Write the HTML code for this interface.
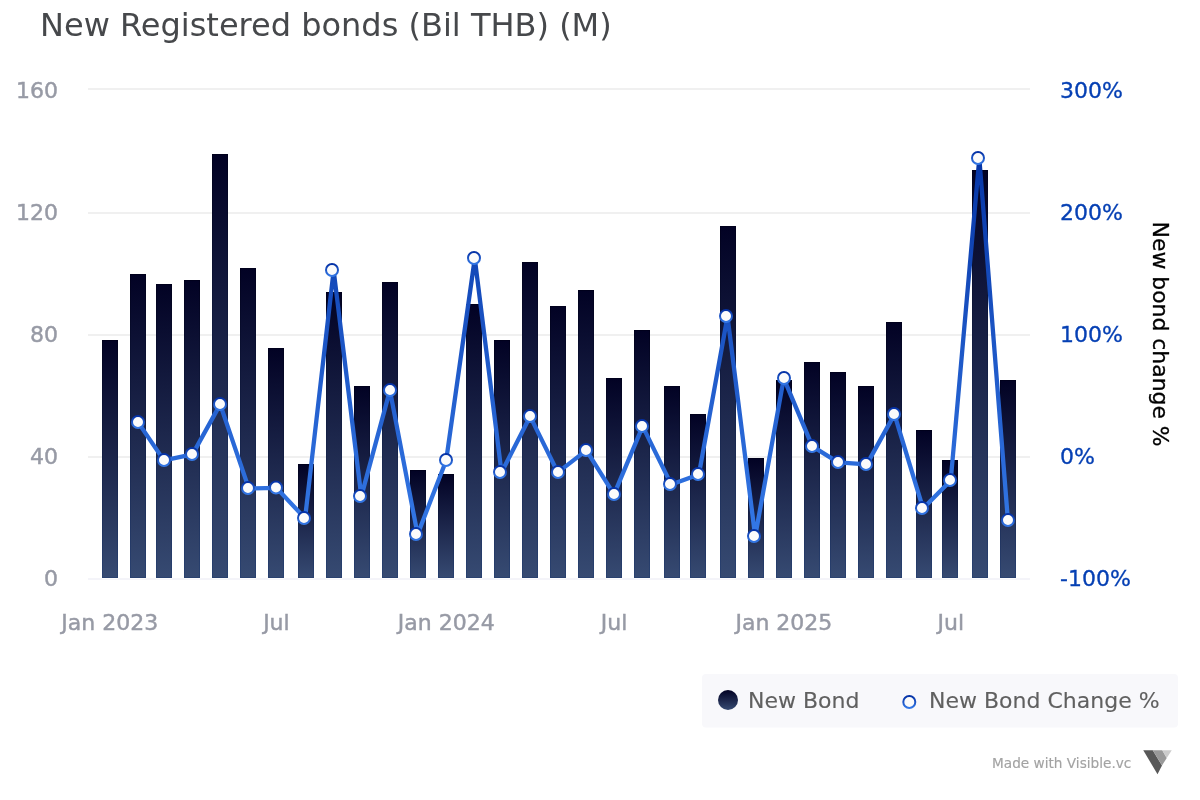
<!DOCTYPE html>
<html lang="en"><head><meta charset="utf-8"><title>New Registered bonds (Bil THB) (M)</title>
<style>html,body{margin:0;padding:0;background:#fff}body{width:1200px;height:800px;overflow:hidden}svg{display:block}text{font-family:"DejaVu Sans", "Liberation Sans", sans-serif}</style>
</head><body>
<svg width="1200" height="800" viewBox="0 0 1200 800">
<defs>
<linearGradient id="gb" x1="0" y1="0" x2="0" y2="1"><stop offset="0" stop-color="#020224"/><stop offset="1" stop-color="#364a72"/></linearGradient>
<linearGradient id="gs" x1="0" y1="0" x2="0" y2="1"><stop offset="0" stop-color="#00001c"/><stop offset="1" stop-color="#294170"/></linearGradient>
<linearGradient id="gl" gradientUnits="userSpaceOnUse" x1="0" y1="158" x2="0" y2="536"><stop offset="0" stop-color="#0635a6"/><stop offset="1" stop-color="#3478e6"/></linearGradient>
<linearGradient id="gm" x1="0" y1="0" x2="0" y2="1"><stop offset="0" stop-color="#0430a4"/><stop offset="1" stop-color="#3478e6"/></linearGradient>
</defs>
<rect width="1200" height="800" fill="#ffffff"/>
<text x="40" y="35.5" font-size="32" fill="#46484b">New Registered bonds (Bil THB) (M)</text>
<rect x="88" y="88" width="942" height="2" fill="#f0f0f0"/>
<rect x="88" y="212" width="942" height="2" fill="#f0f0f0"/>
<rect x="88" y="334" width="942" height="2" fill="#f0f0f0"/>
<rect x="88" y="456" width="942" height="2" fill="#f0f0f0"/>
<rect x="88" y="578" width="942" height="2" fill="#f4f4f9"/>
<rect x="101.7" y="578.4" width="16.6" height="0.8" fill="#fff"/>
<rect x="102.5" y="340.5" width="15" height="237" fill="url(#gb)" stroke="url(#gs)" stroke-width="1"/>
<rect x="129.7" y="578.4" width="16.6" height="0.8" fill="#fff"/>
<rect x="130.5" y="274.5" width="15" height="303" fill="url(#gb)" stroke="url(#gs)" stroke-width="1"/>
<rect x="155.7" y="578.4" width="16.6" height="0.8" fill="#fff"/>
<rect x="156.5" y="284.5" width="15" height="293" fill="url(#gb)" stroke="url(#gs)" stroke-width="1"/>
<rect x="183.7" y="578.4" width="16.6" height="0.8" fill="#fff"/>
<rect x="184.5" y="280.5" width="15" height="297" fill="url(#gb)" stroke="url(#gs)" stroke-width="1"/>
<rect x="211.7" y="578.4" width="16.6" height="0.8" fill="#fff"/>
<rect x="212.5" y="154.5" width="15" height="423" fill="url(#gb)" stroke="url(#gs)" stroke-width="1"/>
<rect x="239.7" y="578.4" width="16.6" height="0.8" fill="#fff"/>
<rect x="240.5" y="268.5" width="15" height="309" fill="url(#gb)" stroke="url(#gs)" stroke-width="1"/>
<rect x="267.7" y="578.4" width="16.6" height="0.8" fill="#fff"/>
<rect x="268.5" y="348.5" width="15" height="229" fill="url(#gb)" stroke="url(#gs)" stroke-width="1"/>
<rect x="297.7" y="578.4" width="16.6" height="0.8" fill="#fff"/>
<rect x="298.5" y="464.5" width="15" height="113" fill="url(#gb)" stroke="url(#gs)" stroke-width="1"/>
<rect x="325.7" y="578.4" width="16.6" height="0.8" fill="#fff"/>
<rect x="326.5" y="292.5" width="15" height="285" fill="url(#gb)" stroke="url(#gs)" stroke-width="1"/>
<rect x="353.7" y="578.4" width="16.6" height="0.8" fill="#fff"/>
<rect x="354.5" y="386.5" width="15" height="191" fill="url(#gb)" stroke="url(#gs)" stroke-width="1"/>
<rect x="381.7" y="578.4" width="16.6" height="0.8" fill="#fff"/>
<rect x="382.5" y="282.5" width="15" height="295" fill="url(#gb)" stroke="url(#gs)" stroke-width="1"/>
<rect x="409.7" y="578.4" width="16.6" height="0.8" fill="#fff"/>
<rect x="410.5" y="470.5" width="15" height="107" fill="url(#gb)" stroke="url(#gs)" stroke-width="1"/>
<rect x="437.7" y="578.4" width="16.6" height="0.8" fill="#fff"/>
<rect x="438.5" y="474.5" width="15" height="103" fill="url(#gb)" stroke="url(#gs)" stroke-width="1"/>
<rect x="465.7" y="578.4" width="16.6" height="0.8" fill="#fff"/>
<rect x="466.5" y="304.5" width="15" height="273" fill="url(#gb)" stroke="url(#gs)" stroke-width="1"/>
<rect x="493.7" y="578.4" width="16.6" height="0.8" fill="#fff"/>
<rect x="494.5" y="340.5" width="15" height="237" fill="url(#gb)" stroke="url(#gs)" stroke-width="1"/>
<rect x="521.7" y="578.4" width="16.6" height="0.8" fill="#fff"/>
<rect x="522.5" y="262.5" width="15" height="315" fill="url(#gb)" stroke="url(#gs)" stroke-width="1"/>
<rect x="549.7" y="578.4" width="16.6" height="0.8" fill="#fff"/>
<rect x="550.5" y="306.5" width="15" height="271" fill="url(#gb)" stroke="url(#gs)" stroke-width="1"/>
<rect x="577.7" y="578.4" width="16.6" height="0.8" fill="#fff"/>
<rect x="578.5" y="290.5" width="15" height="287" fill="url(#gb)" stroke="url(#gs)" stroke-width="1"/>
<rect x="605.7" y="578.4" width="16.6" height="0.8" fill="#fff"/>
<rect x="606.5" y="378.5" width="15" height="199" fill="url(#gb)" stroke="url(#gs)" stroke-width="1"/>
<rect x="633.7" y="578.4" width="16.6" height="0.8" fill="#fff"/>
<rect x="634.5" y="330.5" width="15" height="247" fill="url(#gb)" stroke="url(#gs)" stroke-width="1"/>
<rect x="663.7" y="578.4" width="16.6" height="0.8" fill="#fff"/>
<rect x="664.5" y="386.5" width="15" height="191" fill="url(#gb)" stroke="url(#gs)" stroke-width="1"/>
<rect x="689.7" y="578.4" width="16.6" height="0.8" fill="#fff"/>
<rect x="690.5" y="414.5" width="15" height="163" fill="url(#gb)" stroke="url(#gs)" stroke-width="1"/>
<rect x="719.7" y="578.4" width="16.6" height="0.8" fill="#fff"/>
<rect x="720.5" y="226.5" width="15" height="351" fill="url(#gb)" stroke="url(#gs)" stroke-width="1"/>
<rect x="747.7" y="578.4" width="16.6" height="0.8" fill="#fff"/>
<rect x="748.5" y="458.5" width="15" height="119" fill="url(#gb)" stroke="url(#gs)" stroke-width="1"/>
<rect x="775.7" y="578.4" width="16.6" height="0.8" fill="#fff"/>
<rect x="776.5" y="380.5" width="15" height="197" fill="url(#gb)" stroke="url(#gs)" stroke-width="1"/>
<rect x="803.7" y="578.4" width="16.6" height="0.8" fill="#fff"/>
<rect x="804.5" y="362.5" width="15" height="215" fill="url(#gb)" stroke="url(#gs)" stroke-width="1"/>
<rect x="829.7" y="578.4" width="16.6" height="0.8" fill="#fff"/>
<rect x="830.5" y="372.5" width="15" height="205" fill="url(#gb)" stroke="url(#gs)" stroke-width="1"/>
<rect x="857.7" y="578.4" width="16.6" height="0.8" fill="#fff"/>
<rect x="858.5" y="386.5" width="15" height="191" fill="url(#gb)" stroke="url(#gs)" stroke-width="1"/>
<rect x="885.7" y="578.4" width="16.6" height="0.8" fill="#fff"/>
<rect x="886.5" y="322.5" width="15" height="255" fill="url(#gb)" stroke="url(#gs)" stroke-width="1"/>
<rect x="915.7" y="578.4" width="16.6" height="0.8" fill="#fff"/>
<rect x="916.5" y="430.5" width="15" height="147" fill="url(#gb)" stroke="url(#gs)" stroke-width="1"/>
<rect x="941.7" y="578.4" width="16.6" height="0.8" fill="#fff"/>
<rect x="942.5" y="460.5" width="15" height="117" fill="url(#gb)" stroke="url(#gs)" stroke-width="1"/>
<rect x="971.7" y="578.4" width="16.6" height="0.8" fill="#fff"/>
<rect x="972.5" y="170.5" width="15" height="407" fill="url(#gb)" stroke="url(#gs)" stroke-width="1"/>
<rect x="999.7" y="578.4" width="16.6" height="0.8" fill="#fff"/>
<rect x="1000.5" y="380.5" width="15" height="197" fill="url(#gb)" stroke="url(#gs)" stroke-width="1"/>
<path d="M138.11 422.4 L163.93 460.4 L192.53 454.4 L220.2 404.4 L248.79 488.4 L276.46 487.9 L305.06 518.4 L333.65 270.4 L361.32 496.4 L389.92 390.4 L417.59 534.4 L446.18 460.4 L474.78 258.4 L501.52 472.4 L530.12 416.4 L557.79 472.4 L586.38 450.4 L614.05 494.4 L642.65 426.4 L671.24 484.4 L698.91 474.4 L727.51 316.4 L755.18 536.4 L783.77 378.4 L812.37 446.4 L838.19 462.4 L866.79 464.4 L894.46 414.4 L923.05 508.4 L950.72 480.4 L979.32 158.4 L1007.91 520.4" fill="none" stroke="url(#gl)" stroke-width="4.3" stroke-linejoin="round" stroke-linecap="round"/>
<circle cx="138" cy="422" r="6" fill="#fbfbfb" stroke="url(#gm)" stroke-width="2"/>
<circle cx="164" cy="460" r="6" fill="#fbfbfb" stroke="url(#gm)" stroke-width="2"/>
<circle cx="192" cy="454" r="6" fill="#fbfbfb" stroke="url(#gm)" stroke-width="2"/>
<circle cx="220" cy="404" r="6" fill="#fbfbfb" stroke="url(#gm)" stroke-width="2"/>
<circle cx="248" cy="488" r="6" fill="#fbfbfb" stroke="url(#gm)" stroke-width="2"/>
<circle cx="276" cy="487.5" r="6" fill="#fbfbfb" stroke="url(#gm)" stroke-width="2"/>
<circle cx="304" cy="518" r="6" fill="#fbfbfb" stroke="url(#gm)" stroke-width="2"/>
<circle cx="332" cy="270" r="6" fill="#fbfbfb" stroke="url(#gm)" stroke-width="2"/>
<circle cx="360" cy="496" r="6" fill="#fbfbfb" stroke="url(#gm)" stroke-width="2"/>
<circle cx="390" cy="390" r="6" fill="#fbfbfb" stroke="url(#gm)" stroke-width="2"/>
<circle cx="416" cy="534" r="6" fill="#fbfbfb" stroke="url(#gm)" stroke-width="2"/>
<circle cx="446" cy="460" r="6" fill="#fbfbfb" stroke="url(#gm)" stroke-width="2"/>
<circle cx="474" cy="258" r="6" fill="#fbfbfb" stroke="url(#gm)" stroke-width="2"/>
<circle cx="500" cy="472" r="6" fill="#fbfbfb" stroke="url(#gm)" stroke-width="2"/>
<circle cx="530" cy="416" r="6" fill="#fbfbfb" stroke="url(#gm)" stroke-width="2"/>
<circle cx="558" cy="472" r="6" fill="#fbfbfb" stroke="url(#gm)" stroke-width="2"/>
<circle cx="586" cy="450" r="6" fill="#fbfbfb" stroke="url(#gm)" stroke-width="2"/>
<circle cx="614" cy="494" r="6" fill="#fbfbfb" stroke="url(#gm)" stroke-width="2"/>
<circle cx="642" cy="426" r="6" fill="#fbfbfb" stroke="url(#gm)" stroke-width="2"/>
<circle cx="670" cy="484" r="6" fill="#fbfbfb" stroke="url(#gm)" stroke-width="2"/>
<circle cx="698" cy="474" r="6" fill="#fbfbfb" stroke="url(#gm)" stroke-width="2"/>
<circle cx="726" cy="316" r="6" fill="#fbfbfb" stroke="url(#gm)" stroke-width="2"/>
<circle cx="754" cy="536" r="6" fill="#fbfbfb" stroke="url(#gm)" stroke-width="2"/>
<circle cx="784" cy="378" r="6" fill="#fbfbfb" stroke="url(#gm)" stroke-width="2"/>
<circle cx="812" cy="446" r="6" fill="#fbfbfb" stroke="url(#gm)" stroke-width="2"/>
<circle cx="838" cy="462" r="6" fill="#fbfbfb" stroke="url(#gm)" stroke-width="2"/>
<circle cx="866" cy="464" r="6" fill="#fbfbfb" stroke="url(#gm)" stroke-width="2"/>
<circle cx="894" cy="414" r="6" fill="#fbfbfb" stroke="url(#gm)" stroke-width="2"/>
<circle cx="922" cy="508" r="6" fill="#fbfbfb" stroke="url(#gm)" stroke-width="2"/>
<circle cx="950" cy="480" r="6" fill="#fbfbfb" stroke="url(#gm)" stroke-width="2"/>
<circle cx="978" cy="158" r="6" fill="#fbfbfb" stroke="url(#gm)" stroke-width="2"/>
<circle cx="1008" cy="520" r="6" fill="#fbfbfb" stroke="url(#gm)" stroke-width="2"/>
<text x="58" y="98" font-size="22" fill="#979aa5" stroke="#979aa5" stroke-width="0.45" text-anchor="end">160</text>
<text x="58" y="220" font-size="22" fill="#979aa5" stroke="#979aa5" stroke-width="0.45" text-anchor="end">120</text>
<text x="58" y="342" font-size="22" fill="#979aa5" stroke="#979aa5" stroke-width="0.45" text-anchor="end">80</text>
<text x="58" y="464" font-size="22" fill="#979aa5" stroke="#979aa5" stroke-width="0.45" text-anchor="end">40</text>
<text x="58" y="586" font-size="22" fill="#979aa5" stroke="#979aa5" stroke-width="0.45" text-anchor="end">0</text>
<text x="1060" y="98" font-size="22" fill="#0640b4" stroke="#0640b4" stroke-width="0.3">300%</text>
<text x="1060" y="220" font-size="22" fill="#0640b4" stroke="#0640b4" stroke-width="0.3">200%</text>
<text x="1060" y="342" font-size="22" fill="#0640b4" stroke="#0640b4" stroke-width="0.3">100%</text>
<text x="1060" y="464" font-size="22" fill="#0640b4" stroke="#0640b4" stroke-width="0.3">0%</text>
<text x="1060" y="586" font-size="22" fill="#0640b4" stroke="#0640b4" stroke-width="0.3">-100%</text>
<text x="109.8" y="630" font-size="22" fill="#979aa5" stroke="#979aa5" stroke-width="0.45" text-anchor="middle">Jan 2023</text>
<text x="276.4" y="630" font-size="22" fill="#979aa5" stroke="#979aa5" stroke-width="0.45" text-anchor="middle">Jul</text>
<text x="446.2" y="630" font-size="22" fill="#979aa5" stroke="#979aa5" stroke-width="0.45" text-anchor="middle">Jan 2024</text>
<text x="614.1" y="630" font-size="22" fill="#979aa5" stroke="#979aa5" stroke-width="0.45" text-anchor="middle">Jul</text>
<text x="783.9" y="630" font-size="22" fill="#979aa5" stroke="#979aa5" stroke-width="0.45" text-anchor="middle">Jan 2025</text>
<text x="950.8" y="630" font-size="22" fill="#979aa5" stroke="#979aa5" stroke-width="0.45" text-anchor="middle">Jul</text>
<text transform="translate(1152.6,334.1) rotate(90)" font-size="21.9" fill="#000" stroke="#000" stroke-width="0.3" text-anchor="middle">New bond change %</text>
<rect x="702" y="674" width="476" height="53.5" rx="4" fill="#f8f8fb"/>
<circle cx="728" cy="700" r="10" fill="url(#gb)"/>
<text x="748" y="708" font-size="22" fill="#606060" stroke="#606060" stroke-width="0.12">New Bond</text>
<circle cx="909.3" cy="701.95" r="6" fill="#fbfbfb" stroke="url(#gm)" stroke-width="2"/>
<text x="929" y="708" font-size="22" fill="#606060" stroke="#606060" stroke-width="0.12">New Bond Change %</text>
<text x="992" y="768" font-size="14" fill="#a3a3a3" stroke="#a3a3a3" stroke-width="0.15" textLength="139.3" lengthAdjust="spacingAndGlyphs">Made with Visible.vc</text>
<polygon points="1143.25,750.25 1152.75,750.25 1162,765.5 1157.5,774.25" fill="#585858"/>
<polygon points="1152.75,750.25 1162.25,750.25 1166.75,758 1162,765.5" fill="#999999"/>
<polygon points="1162.25,750.25 1171.75,750.25 1166.75,758" fill="#cccccc"/>
</svg></body></html>
